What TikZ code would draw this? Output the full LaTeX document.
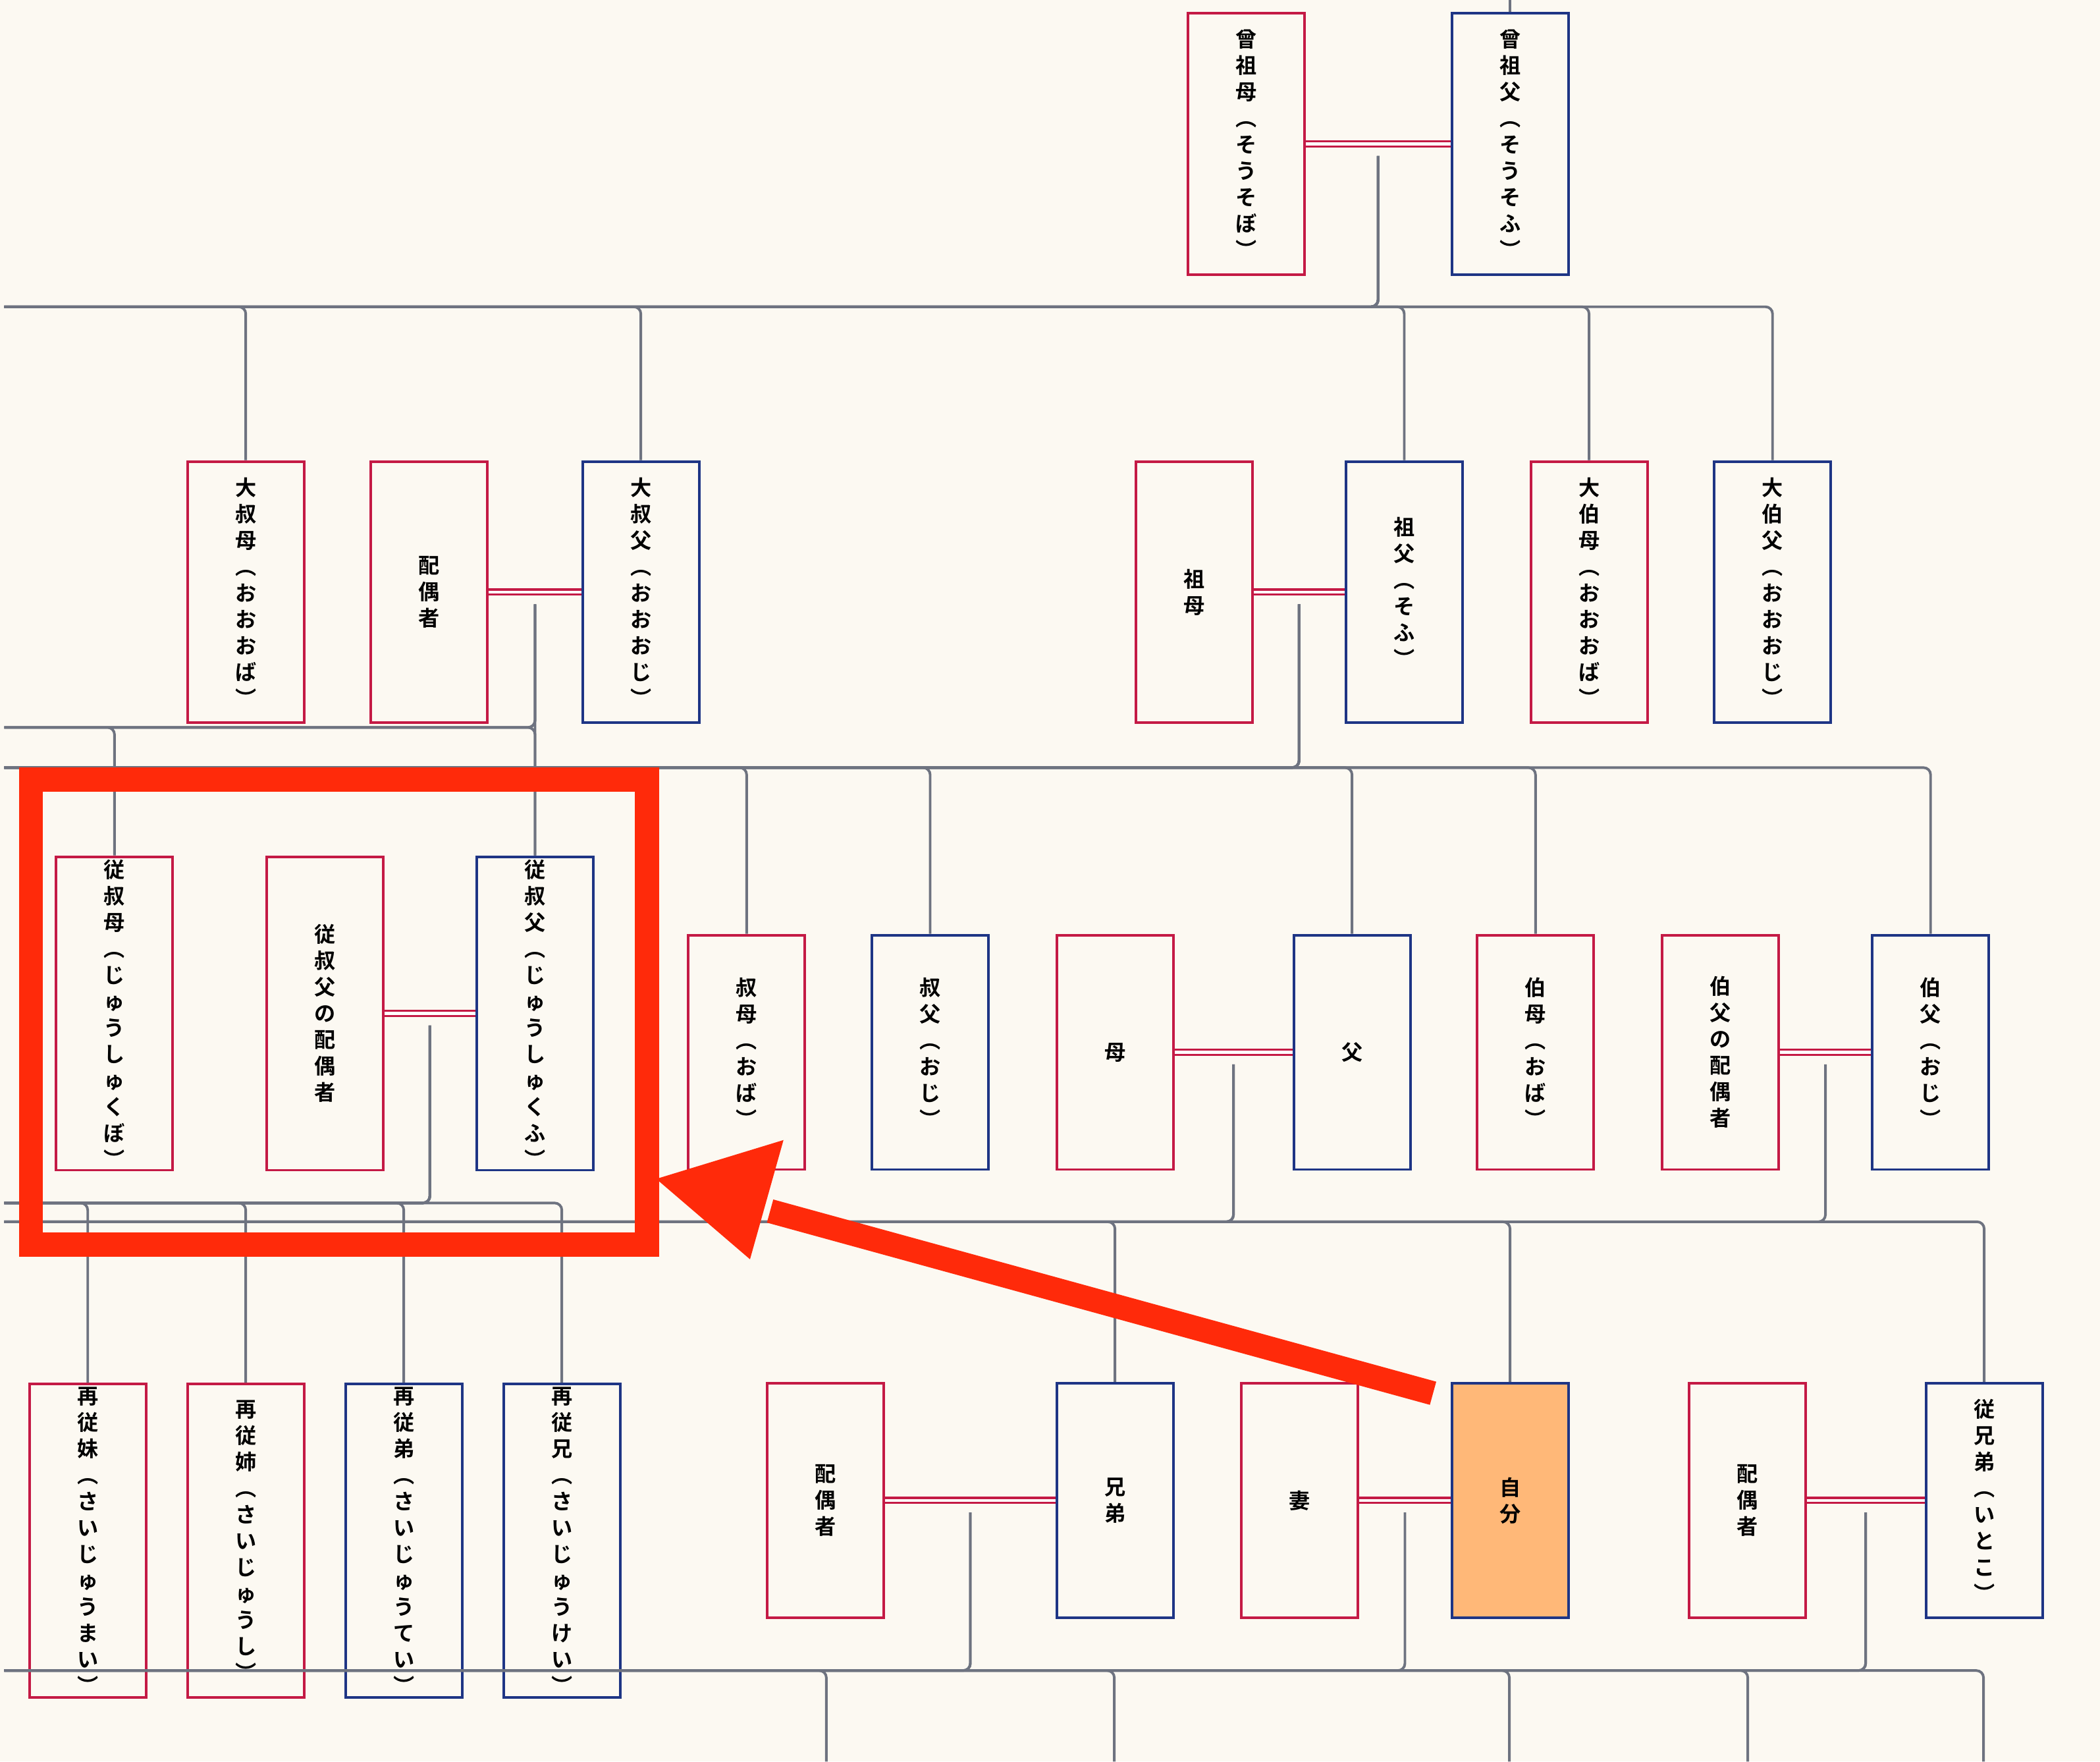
\documentclass[tikz,border=0pt]{standalone}
\usepackage{fontspec}
\setmainfont{Noto Sans CJK JP}[BoldFont={* Bold}]
\usetikzlibrary{calc}
\definecolor{bg}{HTML}{FCF9F2}
\definecolor{cred}{HTML}{C41A45}
\definecolor{cblue}{HTML}{1E3585}
\definecolor{cgray}{HTML}{6E7380}
\definecolor{hl}{HTML}{FF2A0A}
\definecolor{self}{HTML}{FFB878}
\begin{document}
\begin{tikzpicture}[x=0.02cm,y=-0.02cm,
  box/.style={draw, line width=1.1pt, fill=bg, minimum width=1.74cm, align=center,
    font=\fontsize{9pt}{11.2pt}\selectfont\bfseries, inner sep=0pt},
  F/.style={box, draw=cred},
  M/.style={box, draw=cblue},
  h0/.style={minimum height=3.9cm},
  h1/.style={minimum height=4.68cm},
  h2/.style={minimum height=3.5cm},
  marry/.style={draw=cred, line width=0.9pt, double=white, double distance=1.3pt},
  conn/.style={draw=cgray, line width=1.1pt, rounded corners=3pt}]
\fill[bg] (0,0) rectangle (1568,1315);
\useasboundingbox (0,0) rectangle (1568,1315);
% row 0
\node[F,h0] (ssb) at (930.5,107.5) {曾\\祖\\母\\︵\\そ\\う\\そ\\ぼ\\︶};
\node[M,h0] (ssf) at (1127.5,107.5) {曾\\祖\\父\\︵\\そ\\う\\そ\\ふ\\︶};
% row 1
\node[F,h0] (oob1) at (183.5,442) {大\\叔\\母\\︵\\お\\お\\お\\ば\\︶};
\node[F,h0] (hg1) at (320.5,442) {配\\偶\\者};
\node[M,h0] (ooj1) at (478.5,442) {大\\叔\\父\\︵\\お\\お\\お\\じ\\︶};
\node[F,h0] (sobo) at (891.5,442) {祖\\母};
\node[M,h0] (sofu) at (1048.5,442) {祖\\父\\︵\\そ\\ふ\\︶};
\node[F,h0] (oob2) at (1186.5,442) {大\\伯\\母\\︵\\お\\お\\お\\ば\\︶};
\node[M,h0] (ooj2) at (1323.5,442) {大\\伯\\父\\︵\\お\\お\\お\\じ\\︶};
% row 2a
\node[F,h1] (jsb) at (85.5,756.5) {従\\叔\\母\\︵\\じ\\ゅ\\う\\し\\ゅ\\く\\ぼ\\︶};
\node[F,h1] (jsh) at (242.5,756.5) {従\\叔\\父\\の\\配\\偶\\者};
\node[M,h1] (jsf) at (399.5,756.5) {従\\叔\\父\\︵\\じ\\ゅ\\う\\し\\ゅ\\く\\ふ\\︶};
% row 2b
\node[F,h2] (oba1) at (557.5,785.5) {叔\\母\\︵\\お\\ば\\︶};
\node[M,h2] (oji1) at (694.5,785.5) {叔\\父\\︵\\お\\じ\\︶};
\node[F,h2] (haha) at (832.5,785.5) {母};
\node[M,h2] (chichi) at (1009.5,785.5) {父};
\node[F,h2] (oba2) at (1146.5,785.5) {伯\\母\\︵\\お\\ば\\︶};
\node[F,h2] (ojh) at (1284.5,785.5) {伯\\父\\の\\配\\偶\\者};
\node[M,h2] (oji2) at (1441.5,785.5) {伯\\父\\︵\\お\\じ\\︶};
% row 3
\node[F,h1] (sm) at (65.5,1150) {再\\従\\妹\\︵\\さ\\い\\じ\\ゅ\\う\\ま\\い\\︶};
\node[F,h1] (ss) at (183.5,1150) {再\\従\\姉\\︵\\さ\\い\\じ\\ゅ\\う\\し\\︶};
\node[M,h1] (st) at (301.5,1150) {再\\従\\弟\\︵\\さ\\い\\じ\\ゅ\\う\\て\\い\\︶};
\node[M,h1] (sk) at (419.5,1150) {再\\従\\兄\\︵\\さ\\い\\じ\\ゅ\\う\\け\\い\\︶};
\node[F,h2] (hg2) at (616.5,1120) {配\\偶\\者};
\node[M,h2] (kyo) at (832.5,1120) {兄\\弟};
\node[F,h2] (tsuma) at (970.5,1120) {妻};
\node[M,h2,fill=self] (jibun) at (1127.5,1120) {自\\分};
\node[F,h2] (hg3) at (1304.5,1120) {配\\偶\\者};
\node[M,h2] (itoko) at (1481.5,1120) {従\\兄\\弟\\︵\\い\\と\\こ\\︶};
% marriages
\foreach \a/\b in {ssb/ssf,hg1/ooj1,sobo/sofu,jsh/jsf,haha/chichi,ojh/oji2,hg2/kyo,tsuma/jibun,hg3/itoko}
  \draw[marry] (\a.east) -- (\b.west);
% drop points
\coordinate (m0) at ($(ssb.east)!0.5!(ssf.west)+(0,9)$);
\coordinate (m1) at ($(hg1.east)!0.5!(ooj1.west)+(0,9)$);
\coordinate (m2) at ($(sobo.east)!0.5!(sofu.west)+(0,9)$);
\coordinate (m3) at ($(jsh.east)!0.5!(jsf.west)+(0,9)$);
\coordinate (m4) at ($(haha.east)!0.5!(chichi.west)+(0,9)$);
\coordinate (m5) at ($(ojh.east)!0.5!(oji2.west)+(0,9)$);
\coordinate (m6) at ($(hg2.east)!0.5!(kyo.west)+(0,9)$);
\coordinate (m7) at ($(tsuma.east)!0.5!(jibun.west)+(0,9)$);
\coordinate (m8) at ($(hg3.east)!0.5!(itoko.west)+(0,9)$);
\coordinate (top) at (1127.5,0);
\draw[conn] (top) -- (ssf.north);
\foreach \c in {oob1,ooj1,sofu,oob2,ooj2} \draw[conn] (m0) |- (0,229) -| (\c.north);
\foreach \c in {jsb,jsf} \draw[conn] (m1) |- (0,543) -| (\c.north);
\draw[conn] (m1) -- (jsf.north);
\foreach \c in {oba1,oji1,chichi,oba2,oji2} \draw[conn] (m2) |- (0,573) -| (\c.north);
\foreach \c in {sm,ss,st,sk} \draw[conn] (m3) |- (0,898) -| (\c.north);
\foreach \c in {kyo,jibun} \draw[conn] (m4) |- (0,912) -| (\c.north);
\draw[conn] (m5) |- (0,912) -| (itoko.north);
\coordinate (b1) at (617,1315); \coordinate (b2) at (832,1315);
\coordinate (b3) at (1127,1315); \coordinate (b4) at (1305,1315); \coordinate (b5) at (1481,1315);
\foreach \c in {b1,b2} \draw[conn] (m6) |- (0,1247) -| (\c);
\draw[conn] (m7) |- (0,1247) -| (b3);
\foreach \c in {b4,b5} \draw[conn] (m8) |- (0,1247) -| (\c);
% highlight
\draw[hl, line width=10.2pt] (23,582) rectangle (483,929);
\coordinate (at) at (490,880);
\coordinate (as) at (1070,1040);
\coordinate (ab) at (575,904);
\draw[hl, line width=10.2pt] (as) -- (ab);
\fill[hl] (at) -- (585,851) -- (560,940) -- cycle;
\end{tikzpicture}
\end{document}
